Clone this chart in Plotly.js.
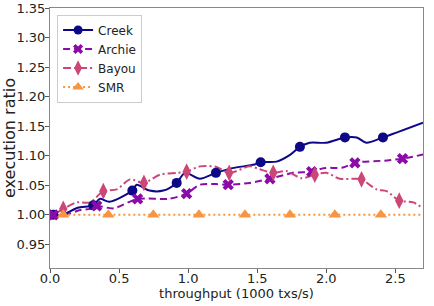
<!DOCTYPE html>
<html>
<head>
<meta charset="utf-8">
<script src="https://cdn.plot.ly/plotly-3.0.1.min.js"></script>
<style>html,body{margin:0;padding:0;background:#fff;}#chart{width:434px;height:306px;}</style>
</head>
<body>
<div id="chart"></div>
<script>
// Creek (solid line, circle markers)
const creekLineX = [0.024, 0.09, 0.2, 0.313, 0.36, 0.43, 0.596, 0.627, 0.72, 0.82, 0.917, 0.977, 1.085, 1.201, 1.32, 1.48, 1.525, 1.64, 1.74, 1.809, 1.88, 2.0, 2.135, 2.22, 2.29, 2.41, 2.7];
const creekLineY = [1.000, 1.000, 1.012, 1.016, 1.027, 1.022, 1.041, 1.051, 1.041, 1.041, 1.054, 1.071, 1.061, 1.071, 1.079, 1.085, 1.089, 1.090, 1.102, 1.115, 1.122, 1.122, 1.131, 1.131, 1.122, 1.131, 1.156];
const creekMarkX = [0.024, 0.313, 0.596, 0.917, 1.201, 1.525, 1.809, 2.135, 2.41];
const creekMarkY = [1.000, 1.016, 1.041, 1.054, 1.071, 1.089, 1.115, 1.131, 1.131];

// Archie (dashed line, X markers)
const archieLineX = [0.024, 0.11, 0.22, 0.29, 0.338, 0.46, 0.634, 0.86, 0.989, 1.085, 1.2, 1.29, 1.447, 1.592, 1.76, 1.894, 1.98, 2.12, 2.207, 2.44, 2.552, 2.7];
const archieLineY = [1.000, 1.000, 1.008, 1.010, 1.015, 1.011, 1.027, 1.027, 1.036, 1.051, 1.052, 1.051, 1.054, 1.061, 1.071, 1.073, 1.079, 1.080, 1.088, 1.092, 1.095, 1.102];
const archieMarkX = [0.024, 0.338, 0.634, 0.989, 1.29, 1.592, 1.894, 2.207, 2.552];
const archieMarkY = [1.000, 1.015, 1.027, 1.036, 1.051, 1.061, 1.073, 1.088, 1.095];

// Bayou (dash-dot line, diamond markers)
const bayouLineX = [0.024, 0.096, 0.193, 0.29, 0.386, 0.483, 0.579, 0.68, 0.796, 0.917, 0.989, 1.085, 1.206, 1.297, 1.447, 1.52, 1.616, 1.71, 1.821, 1.917, 2.0, 2.098, 2.195, 2.255, 2.364, 2.436, 2.528, 2.63, 2.7];
const bayouLineY = [1.000, 1.010, 1.021, 1.021, 1.040, 1.043, 1.060, 1.054, 1.068, 1.071, 1.073, 1.082, 1.081, 1.071, 1.082, 1.077, 1.071, 1.074, 1.062, 1.068, 1.071, 1.061, 1.061, 1.060, 1.043, 1.040, 1.024, 1.021, 1.011];
const bayouMarkX = [0.096, 0.386, 0.68, 0.989, 1.297, 1.616, 1.917, 2.255, 2.528];
const bayouMarkY = [1.010, 1.040, 1.054, 1.073, 1.071, 1.071, 1.068, 1.060, 1.024];

// SMR (dotted line, triangle markers)
const smrLineX = [0.024, 2.7];
const smrLineY = [1.000, 1.000];
const smrMarkX = [0.096, 0.422, 0.748, 1.078, 1.411, 1.737, 2.062, 2.395];
const smrMarkY = [1.000, 1.000, 1.000, 1.000, 1.000, 1.000, 1.000, 1.000];

const series = [
  {name: 'Creek', lx: creekLineX, ly: creekLineY, mx: creekMarkX, my: creekMarkY, color: '#0d0887', dash: 'solid', symbol: 'circle', size: 10},
  {name: 'Archie', lx: archieLineX, ly: archieLineY, mx: archieMarkX, my: archieMarkY, color: '#8a0ba6', dash: '7px,4px', symbol: 'x', size: 10},
  {name: 'Bayou', lx: bayouLineX, ly: bayouLineY, mx: bayouMarkX, my: bayouMarkY, color: '#cc4778', dash: '8px,3px,2px,3px', symbol: 'diamond-tall', size: 12},
  {name: 'SMR', lx: smrLineX, ly: smrLineY, mx: smrMarkX, my: smrMarkY, color: '#f89540', dash: '2px,3px', symbol: 'triangle-up', size: 11}
];

const lineTraces = [], markTraces = [], legendTraces = [];
series.forEach(s => {
  lineTraces.push({x: s.lx, y: s.ly, mode: 'lines', type: 'scatter', showlegend: false,
    line: {color: s.color, width: 2, dash: s.dash, shape: 'spline', smoothing: 0.8}, hoverinfo: 'skip'});
  markTraces.push({x: s.mx, y: s.my, mode: 'markers', type: 'scatter', showlegend: false,
    marker: {color: s.color, symbol: s.symbol, size: s.size, line: {width: 0}}});
  legendTraces.push({x: [null], y: [null], mode: 'lines+markers', type: 'scatter', name: s.name,
    line: {color: s.color, width: 2, dash: s.dash}, marker: {color: s.color, symbol: s.symbol, size: s.size - 1}});
});
const traces = [...lineTraces, ...markTraces, ...legendTraces];

const fam = 'DejaVu Sans, sans-serif';
const layout = {
  width: 434, height: 306,
  margin: {l: 50, r: 11, t: 8, b: 38},
  paper_bgcolor: '#fff', plot_bgcolor: '#fff',
  font: {family: fam, size: 13, color: '#222'},
  showlegend: true,
  legend: {x: 0.019, y: 0.975, xanchor: 'left', yanchor: 'top', bgcolor: 'rgba(255,255,255,0.9)',
    bordercolor: '#ccc', borderwidth: 1, font: {family: fam, size: 12, color: '#222'},
    tracegroupgap: 0, itemwidth: 30},
  xaxis: {range: [0, 2.7], tickvals: [0, 0.5, 1.0, 1.5, 2.0, 2.5], ticktext: ['0.0', '0.5', '1.0', '1.5', '2.0', '2.5'],
    ticks: 'outside', ticklen: 4, tickcolor: '#555', showgrid: false, zeroline: false, ticklabelstandoff: -6,
    showline: true, linecolor: '#888', linewidth: 1, mirror: true, tickfont: {family: fam, size: 13, color: '#222'},
    title: {text: 'throughput (1000 txs/s)', font: {family: fam, size: 13, color: '#222'}, standoff: 2}},
  yaxis: {range: [0.91, 1.35], tickvals: [0.95, 1.0, 1.05, 1.1, 1.15, 1.2, 1.25, 1.3, 1.35],
    ticktext: ['0.95', '1.00', '1.05', '1.10', '1.15', '1.20', '1.25', '1.30', '1.35'],
    ticks: 'outside', ticklen: 4, tickcolor: '#555', showgrid: false, zeroline: false, ticklabelstandoff: -3,
    showline: true, linecolor: '#888', linewidth: 1, mirror: true, tickfont: {family: fam, size: 13, color: '#222'},
    title: {text: 'execution ratio', font: {family: fam, size: 16, color: '#222'}, standoff: 2}}
};

Plotly.newPlot('chart', traces, layout, {displayModeBar: false, staticPlot: true});
</script>
</body>
</html>
